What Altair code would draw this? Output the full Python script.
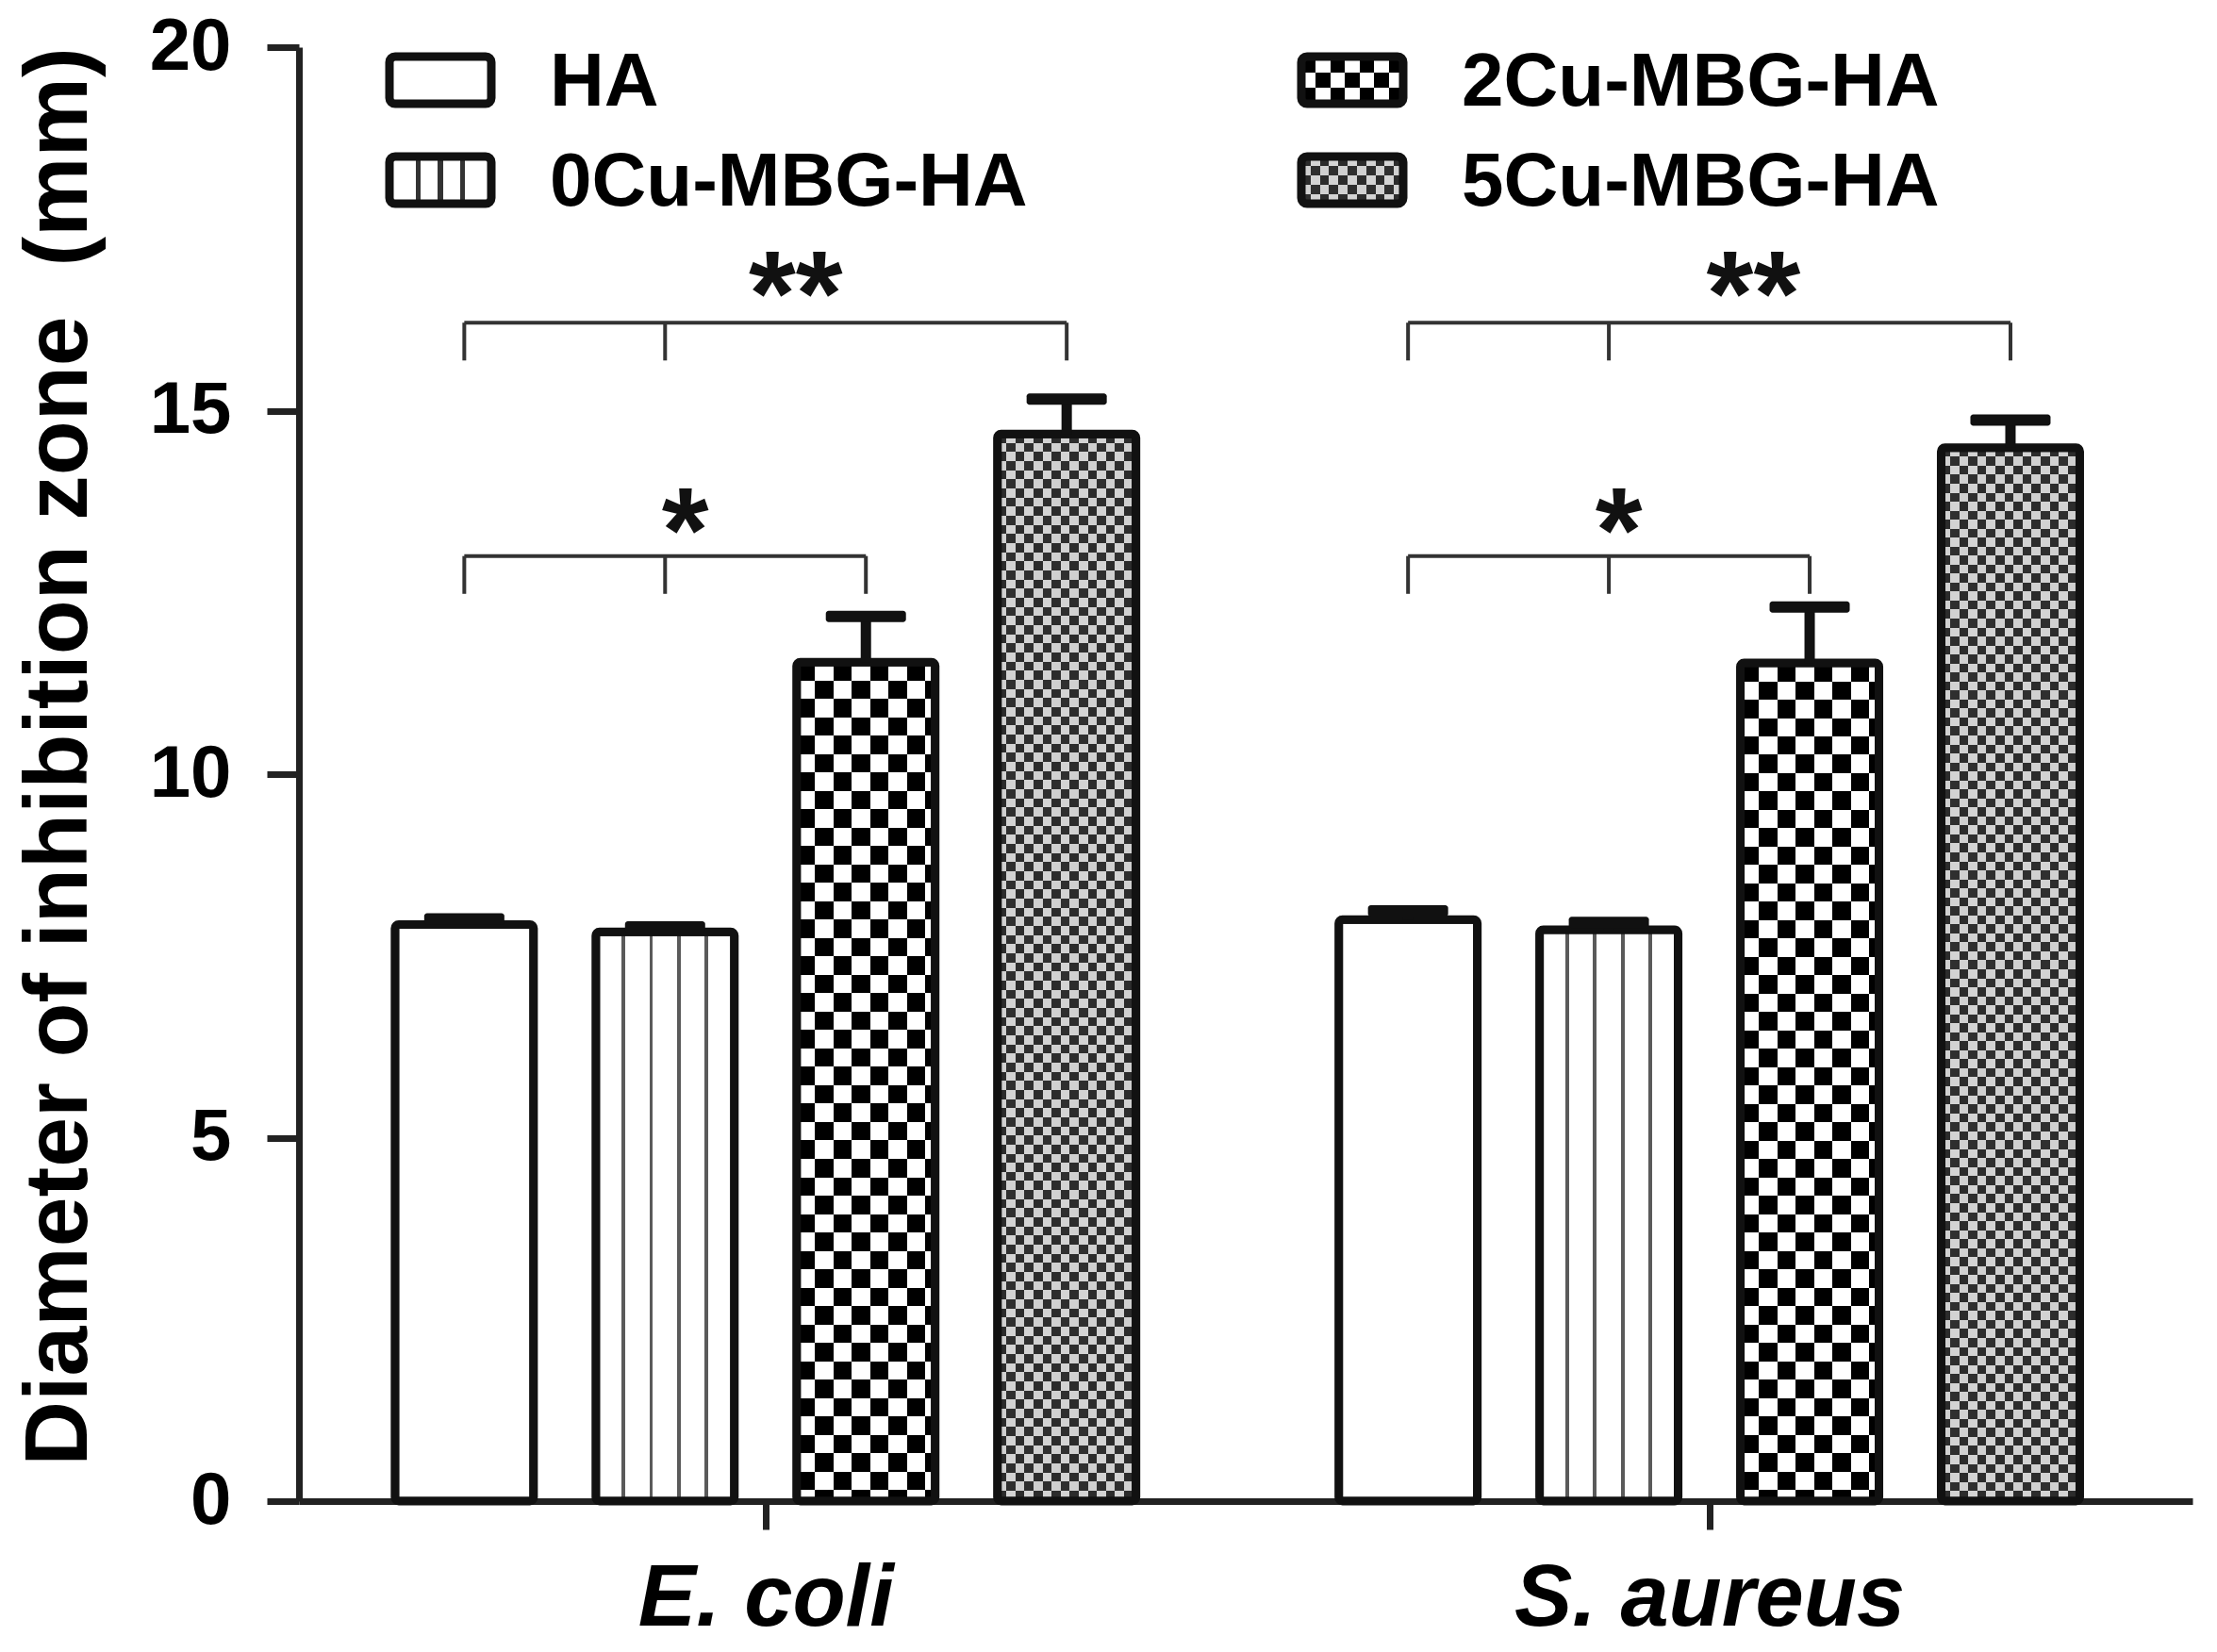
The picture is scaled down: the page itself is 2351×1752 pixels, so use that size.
import math
import altair as alt
import pandas as pd

# ---------------- data ----------------
groups = ["E. coli", "S. aureus"]
series = ["HA", "0Cu-MBG-HA", "2Cu-MBG-HA", "5Cu-MBG-HA"]
ecoli_mean = [7.93, 7.83, 11.54, 14.68]
ecoli_err = [0.08, 0.07, 0.63, 0.48]
saureus_mean = [8.00, 7.86, 11.53, 14.49]
saureus_err = [0.12, 0.10, 0.77, 0.38]

# significance brackets (start at HA, middle tick at 0Cu, end at target)
sig_group = ["E. coli", "E. coli", "S. aureus", "S. aureus"]
sig_target = ["2Cu-MBG-HA", "5Cu-MBG-HA", "2Cu-MBG-HA", "5Cu-MBG-HA"]
sig_level = [13.0, 16.21, 13.0, 16.21]
sig_drop = [12.48, 15.69, 12.48, 15.69]
sig_label = ["*", "**", "*", "**"]
sig_label_y = [13.72, 16.98, 13.72, 16.98]
sig_label_shift = [-0.40, 0.15, -0.45, 0.22]   # in bar slots from group centre

y_title = "Diameter of inhibition zone\u00a0 (mm)"

# ---------------- layout / style constants ----------------
W, H = 2008, 1542
GROUP_GAP = 4.70                  # group distance in bar slots
X_DOMAIN = [-2.30, 7.083]
PX_PER_UNIT_Y = H / 20.0
BAR_PX = 147
OUTLINE = 9
FONT = "Liberation Sans"
INK = "#111111"

# ---------------- tables ----------------
means = [ecoli_mean, saureus_mean]
errs = [ecoli_err, saureus_err]
rows = []
for gi, g in enumerate(groups):
    for si, s in enumerate(series):
        rows.append(dict(group=g, series=s, pos=gi * GROUP_GAP + (si - 1.5),
                         mean=means[gi][si], top=means[gi][si] + errs[gi][si]))
bars = pd.DataFrame(rows)


def pos_of(g, s):
    return groups.index(g) * GROUP_GAP + (series.index(s) - 1.5)


br_rows, drop_rows, star_rows = [], [], []
for g, t, lv, dp, lab, ly, sh in zip(sig_group, sig_target, sig_level, sig_drop,
                                    sig_label, sig_label_y, sig_label_shift):
    br_rows.append(dict(x=pos_of(g, "HA"), x2=pos_of(g, t), y=lv))
    for s in ["HA", "0Cu-MBG-HA", t]:
        drop_rows.append(dict(x=pos_of(g, s), y=lv, y2=dp))
    star_rows.append(dict(x=groups.index(g) * GROUP_GAP + sh, y=ly, label=lab))
brackets = pd.DataFrame(br_rows)
drops = pd.DataFrame(drop_rows)
stars = pd.DataFrame(star_rows)

# legend table (pixel layout, two columns, column-major)
LEG_X0, LEG_COLGAP, LEG_Y0, LEG_ROWGAP = 96, 967, 35, 106
LEG_W, LEG_H, LEG_TEXT_DX = 108, 50, 170
leg_rows = []
for i, s in enumerate(series):
    col, row = i // 2, i % 2
    x0 = LEG_X0 + col * LEG_COLGAP
    yc = LEG_Y0 + row * LEG_ROWGAP
    leg_rows.append(dict(series=s, x0=x0, x1=x0 + LEG_W, y0=yc - LEG_H / 2,
                         y1=yc + LEG_H / 2, yc=yc, tx=x0 + LEG_TEXT_DX))
legend = pd.DataFrame(leg_rows)


# ---------------- gradients (hatch patterns) ----------------
def seg_gradient(segments, horizontal=True):
    stops = []
    for a, b, c in segments:
        stops.append({"offset": a, "color": c})
        stops.append({"offset": b, "color": c})
    return {"gradient": "linear", "x1": 0, "y1": 0,
            "x2": 1 if horizontal else 0, "y2": 0 if horizontal else 1,
            "stops": stops}


def alternating(n_cells, c0, c1, horizontal=True):
    cell = 1.0 / n_cells
    segs = []
    for i in range(int(math.ceil(n_cells))):
        segs.append((i * cell, min(1.0, (i + 1) * cell), c0 if i % 2 == 0 else c1))
    return seg_gradient(segs, horizontal)


def lines(fracs, width, bg, fg):
    segs, prev = [], 0.0
    for f in fracs:
        segs.append((prev, f - width / 2, bg))
        segs.append((f - width / 2, f + width / 2, fg))
        prev = f + width / 2
    segs.append((prev, 1.0, bg))
    return seg_gradient(segs, True)


def rows_for(s, cell_px):
    m = bars[bars.series == s]["mean"].mean()
    return m * PX_PER_UNIT_Y / cell_px


g_0cu = lines([0.2, 0.4, 0.6, 0.8], 0.026, "#ffffff", "#5a5a5a")
g_2cu_v = alternating(BAR_PX / 19.5, "#000000", "#ffffff", True)
g_2cu_h = alternating(rows_for("2Cu-MBG-HA", 19.5), "#000000", "#ffffff", False)
g_5cu_v = alternating(BAR_PX / 9.6, "#000000", "#ffffff", True)
g_5cu_h = alternating(rows_for("5Cu-MBG-HA", 9.6), "#2c2c2c", "#d0d0d0", False)

lg_0cu = lines([0.28, 0.5, 0.72], 0.05, "#ffffff", "#333333")
lg_2cu_v = alternating(7, "#000000", "#ffffff", True)
lg_2cu_h = alternating(3, "#000000", "#ffffff", False)
lg_5cu_v = alternating(11, "#000000", "#ffffff", True)
lg_5cu_h = alternating(5, "#2c2c2c", "#d0d0d0", False)

# ---------------- encodings ----------------
xscale = alt.Scale(domain=X_DOMAIN, nice=False, zero=False)
yscale = alt.Scale(domain=[0, 20], nice=False)
label_expr = "[" + ",".join("'%s'" % g for g in groups) + "][round(datum.value / %s)]" % GROUP_GAP
xaxis = alt.Axis(values=[0, GROUP_GAP], labelExpr=label_expr, title=None, grid=False,
                 labelFont=FONT, labelFontSize=92, labelFontWeight="bold",
                 labelFontStyle="italic", labelColor="#000", labelPadding=28,
                 labelLimit=0, labelOverlap=False,
                 tickSize=30, tickWidth=7, tickColor="#222", domainColor="#222",
                 domainWidth=7, labelFlush=False)
yaxis = alt.Axis(values=[0, 5, 10, 15, 20], title=y_title, grid=False,
                 labelFont=FONT, labelFontSize=78, labelFontWeight="bold",
                 labelColor="#000", labelPadding=38, tickSize=34, tickWidth=7,
                 tickColor="#222", domainColor="#222", domainWidth=7,
                 titleFont=FONT, titleFontSize=95, titleFontWeight="bold",
                 titleColor="#000", titleAngle=-90, titleX=-226, titleY=752,
                 titleAlign="center", titleBaseline="alphabetic", titleLimit=0,
                 labelFlush=False)


def X(field="pos"):
    return alt.X(f"{field}:Q", scale=xscale, axis=xaxis)


def Y(field="mean"):
    return alt.Y(f"{field}:Q", scale=yscale, axis=yaxis)


base = alt.Chart(bars)


def bar_layer(s, fill, blend=None):
    kw = dict(size=BAR_PX, fill=fill, strokeWidth=0)
    if blend:
        kw["blend"] = blend
    return base.transform_filter(alt.datum.series == s).mark_bar(**kw).encode(
        x=X(), y=Y(), y2=alt.value(H))


layers = [
    bar_layer("HA", "#ffffff"),
    bar_layer("0Cu-MBG-HA", g_0cu),
    bar_layer("2Cu-MBG-HA", g_2cu_v),
    bar_layer("2Cu-MBG-HA", g_2cu_h, "difference"),
    bar_layer("5Cu-MBG-HA", g_5cu_v),
    bar_layer("5Cu-MBG-HA", g_5cu_h, "difference"),
    base.mark_bar(size=BAR_PX, fillOpacity=0, stroke=INK, strokeWidth=OUTLINE,
                  cornerRadius=4).encode(x=X(), y=Y(), y2=alt.value(H)),
    base.mark_rule(strokeWidth=11, color=INK).encode(x=X(), y=Y(), y2="top:Q"),
    base.mark_tick(orient="horizontal", size=85, thickness=12, color=INK,
                   cornerRadius=3, opacity=1).encode(x=X(), y=Y("top")),
    alt.Chart(brackets).mark_rule(strokeWidth=4, color="#333").encode(
        x=X("x"), x2="x2:Q", y=Y("y")),
    alt.Chart(drops).mark_rule(strokeWidth=4, color="#333").encode(
        x=X("x"), y=Y("y"), y2="y2:Q"),
    alt.Chart(stars).mark_text(font=FONT, fontSize=128, fontWeight="bold",
                               color=INK, baseline="alphabetic", dy=72).encode(
        x=X("x"), y=Y("y"), text="label:N"),
]

# ---------------- hand-built legend ----------------
lbase = alt.Chart(legend)
PX = lambda f: alt.X(f"{f}:Q", scale=None, axis=None)
PY = lambda f: alt.Y(f"{f}:Q", scale=None, axis=None)


def leg_layer(s, fill, blend=None):
    kw = dict(fill=fill, strokeWidth=0)
    if blend:
        kw["blend"] = blend
    return lbase.transform_filter(alt.datum.series == s).mark_rect(**kw).encode(
        x=PX("x0"), x2="x1:Q", y=PY("y0"), y2="y1:Q")


layers += [
    leg_layer("HA", "#ffffff"),
    leg_layer("0Cu-MBG-HA", lg_0cu),
    leg_layer("2Cu-MBG-HA", lg_2cu_v),
    leg_layer("2Cu-MBG-HA", lg_2cu_h, "difference"),
    leg_layer("5Cu-MBG-HA", lg_5cu_v),
    leg_layer("5Cu-MBG-HA", lg_5cu_h, "difference"),
    lbase.mark_rect(fillOpacity=0, stroke=INK, strokeWidth=OUTLINE, cornerRadius=6).encode(
        x=PX("x0"), x2="x1:Q", y=PY("y0"), y2="y1:Q"),
    lbase.mark_text(font=FONT, fontSize=80, fontWeight="bold", color="#000",
                    align="left", baseline="middle", dy=3).encode(
        x=PX("tx"), y=PY("yc"), text="series:N"),
]

chart = alt.layer(*layers).properties(
    width=W, height=H,
    autosize=alt.AutoSizeParams(type="none"),
    padding={"left": 309, "top": 42, "right": 18, "bottom": 152},
    background="white",
).configure_view(stroke=None)

chart.save("out.html", embed_options={"renderer": "svg", "actions": False})
